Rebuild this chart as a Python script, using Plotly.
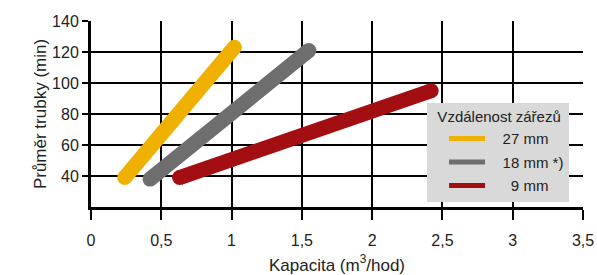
import plotly.graph_objects as go

series_names = ["27 mm", "18 mm *)", "9 mm"]
legend_labels = ["\u00a0\u00a0\u00a027 mm", "\u00a0\u00a0\u00a018 mm *)", "\u00a0\u00a0\u00a0\u00a0\u00a09 mm"]
x_start = [0.24, 0.42, 0.63]
x_end = [1.02, 1.55, 2.42]
y_start = [39, 38, 39]
y_end = [123, 121, 95]
colors = ["#F0B000", "#6E6E6E", "#A30E12"]

x_ticks = [0, 0.5, 1, 1.5, 2, 2.5, 3, 3.5]
y_ticks = [40, 60, 80, 100, 120, 140]

fig = go.Figure()
LW = 15
for i, name in enumerate(series_names):
    xs = [x_start[i], x_end[i]]
    ys = [y_start[i], y_end[i]]
    fig.add_trace(go.Scatter(
        x=xs, y=ys, mode="lines+markers",
        line=dict(color=colors[i], width=LW),
        marker=dict(color=colors[i], size=LW, line=dict(width=0)),
        showlegend=False, hoverinfo="skip"))
for i, name in enumerate(series_names):
    fig.add_trace(go.Scatter(
        x=[None], y=[None], mode="lines",
        line=dict(color=colors[i], width=5),
        name=legend_labels[i], legendgroup=name, showlegend=True))

font_family = "Liberation Sans, Arial, sans-serif"
fig.update_layout(
    width=597, height=275,
    margin=dict(l=91, r=14, t=21, b=68, autoexpand=False),
    paper_bgcolor="white", plot_bgcolor="white",
    separators=", ",
    font=dict(family=font_family, size=16, color="#222222"),
    legend=dict(
        title=dict(text="\u00a0\u00a0Vzdálenost zářezů", font=dict(size=15, color="#222222"), side="top"),
        font=dict(size=15, color="#222222"),
        bgcolor="#D9D9D9",
        x=0.683, y=0.56, xanchor="left", yanchor="top",
        traceorder="grouped", tracegroupgap=1,
        itemwidth=36, indentation=17,
    ),
    xaxis=dict(
        range=[0, 3.5], tickvals=x_ticks, ticktext=[str(v).replace(".", ",") for v in x_ticks],
        showgrid=True, gridcolor="#000000", gridwidth=1.5,
        showline=True, linecolor="#000000", linewidth=3,
        ticks="outside", ticklen=10, tickcolor="#000000", tickwidth=1.5,
        ticklabelstandoff=7, automargin=False,
        zeroline=False,
        title=dict(text="Kapacita (m<sup>3</sup>/hod)", font=dict(size=17), standoff=11),
        tickfont=dict(size=16),
    ),
    yaxis=dict(
        range=[20, 140], tickvals=y_ticks, ticksuffix="\u00a0\u00a0\u00a0",
        showgrid=True, gridcolor="#000000", gridwidth=1.5,
        showline=True, linecolor="#000000", linewidth=3,
        ticks="outside", ticklen=6, tickcolor="#000000", tickwidth=1.5,
        automargin=False,
        zeroline=False,
        title=dict(text="Průměr trubky (min)", font=dict(size=17), standoff=2),
        tickfont=dict(size=16),
    ),
)

fig.write_html(
    "out.html",
    config={"displayModeBar": False},
    post_script="document.body.style.margin='0';document.body.style.overflow='hidden';",
)
